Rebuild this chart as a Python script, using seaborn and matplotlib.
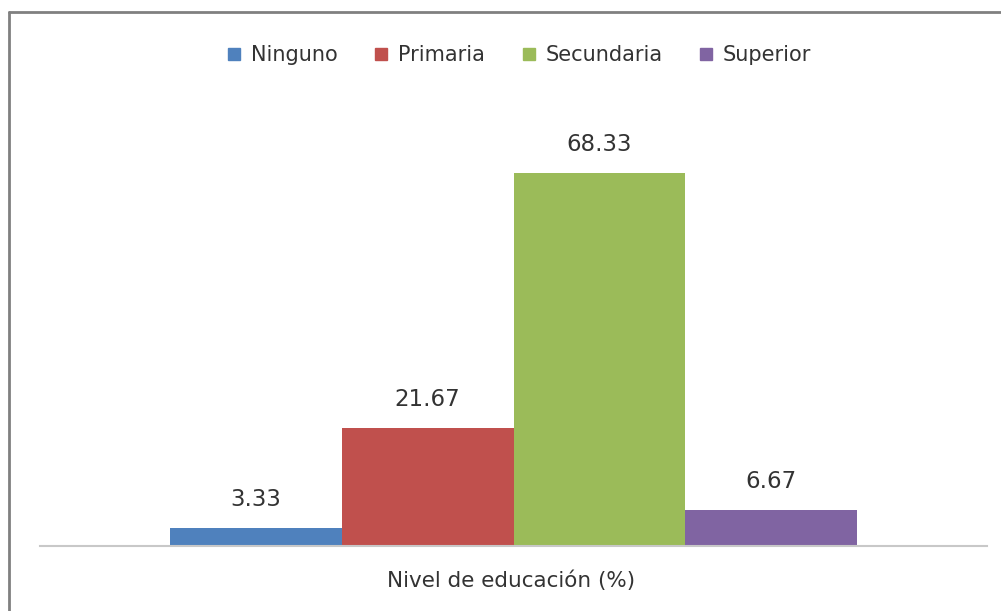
import matplotlib
matplotlib.use("Agg")
import matplotlib.pyplot as plt
import seaborn as sns
import pandas as pd
from matplotlib.lines import Line2D

categories = ["Ninguno", "Primaria", "Secundaria", "Superior"]
values = [3.33, 21.67, 68.33, 6.67]
labels = ["3.33", "21.67", "68.33", "6.67"]
colors = ["#4F81BD", "#C0504D", "#9BBB59", "#8064A2"]
xlabel = "Nivel de educación (%)"

sns.set_theme(style="white")
plt.rcParams['font.family'] = ['DejaVu Sans']

df = pd.DataFrame({"grupo": ["Nivel"] * 4, "nivel": categories, "valor": values})

fig = plt.figure(figsize=(10.01, 6.11), dpi=100)
ax = fig.add_axes([40 / 1001, 1 - 546 / 611, 947 / 1001, (546 - 109) / 611])
sns.barplot(data=df, x="grupo", y="valor", hue="nivel", hue_order=categories,
            palette=colors, width=0.725, saturation=1, ax=ax, legend=False,
            edgecolor="none", linewidth=0)
ax.set_xlim(-0.5, 0.5)
ax.set_ylim(0, 80)
for cont, lab in zip(ax.containers, labels):
    ax.bar_label(cont, labels=[lab], padding=12, fontsize=16.5, color="#333333")
for s in ["top", "right", "left"]:
    ax.spines[s].set_visible(False)
ax.spines["bottom"].set_color("#C8C8C8")
ax.spines["bottom"].set_linewidth(1.5)
ax.set_xticks([])
ax.set_yticks([])
ax.set_ylabel("")
ax.set_xlabel("")
fig.text(0.5105, 1 - 581 / 611, xlabel, ha="center", va="center", fontsize=15.5, color="#333333")

handles = [Line2D([], [], marker="s", linestyle="none", markersize=8,
                  markerfacecolor=c, markeredgecolor=c) for c in colors]
fig.legend(handles, categories, loc="center", bbox_to_anchor=(0.517, 1 - 55 / 611),
           ncol=4, frameon=False, fontsize=15, handletextpad=0.3,
           columnspacing=1.6, labelcolor="#333333", handlelength=1.0)

# chart border (top and left visible)
fig.add_artist(Line2D([9 / 1001, 9 / 1001], [0, 1 - 12 / 611], color="#808080", lw=2))
fig.add_artist(Line2D([9 / 1001, 1], [1 - 12 / 611, 1 - 12 / 611], color="#808080", lw=2))

fig.savefig("out.png", dpi=100)
